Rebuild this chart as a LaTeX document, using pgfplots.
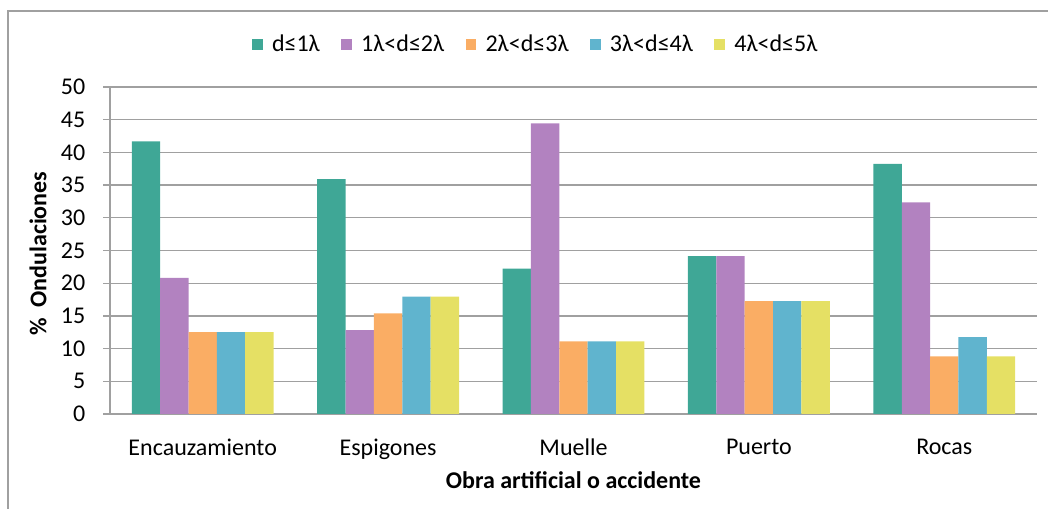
\documentclass[border=0pt]{standalone}
\usepackage{pgfplots}
\pgfplotsset{compat=1.18}
\usetikzlibrary{calc}
\usepackage{fontspec}
\setmainfont{Carlito}
\definecolor{cA}{HTML}{3FA796}
\definecolor{cB}{HTML}{B282C0}
\definecolor{cC}{HTML}{FAAD64}
\definecolor{cD}{HTML}{60B4CE}
\definecolor{cE}{HTML}{E5E064}
\definecolor{gridc}{HTML}{A0A0A0}
\pgfplotsset{/pgfplots/ybar legend/.style={/pgfplots/legend image code/.code={\fill[##1] (0pt,-4pt) rectangle (8pt,4pt); \path (13pt,0pt);}}}
\begin{document}
\begin{tikzpicture}
\begin{pgfinterruptboundingbox}
\begin{axis}[
  name=ax,
  scale only axis, width=695.25pt, height=245.25pt,
  ymin=0, ymax=50, ytick={0,5,...,50},
  xmin=-0.5, xmax=4.5,
  xtick={0,...,4},
  xticklabels={Encauzamiento,Espigones,Muelle,Puerto,Rocas},
  extra x ticks={-0.5,0.5,1.5,2.5,3.5,4.5},
  extra x tick labels={},
  extra x tick style={major tick length=5pt, tick align=outside, tick style={gridc, line width=1pt}},
  x tick style={draw=none},
  y tick style={gridc, line width=1pt},
  tick align=outside, major tick length=5pt,
  axis x line*=bottom, axis y line*=left,
  axis line style={gridc, line width=1pt, -},
  ymajorgrids, grid style={gridc, line width=1pt},
  ybar=0pt, bar width=0.153,
  /pgf/number format/assume math mode=true,
  tick label style={font=\fontsize{18}{20}\selectfont, text=black},
  yticklabel style={xshift=-10pt},
  xticklabel style={yshift=-10pt},
  xlabel={\textbf{Obra artificial o accidente}},
  ylabel={\textbf{\%\ \ Ondulaciones}},
  xlabel style={at={(axis description cs:0.5,-0.2018)}, anchor=center, font=\fontsize{18}{20}\selectfont},
  ylabel style={at={(axis description cs:-0.0777,0.49)}, anchor=center, font=\fontsize{18}{20}\selectfont},
  legend columns=5,
  legend style={at={(axis description cs:0.4596,1)}, anchor=center, yshift=32pt, draw=none, fill=none,
    font=\fontsize{18}{20}\selectfont,
    /tikz/every even column/.append style={column sep=14pt}},
  legend cell align=left,
]
\addplot[fill=cA, draw=none] coordinates {(0,41.67) (1,35.90) (2,22.22) (3,24.14) (4,38.24)};
\addplot[fill=cB, draw=none] coordinates {(0,20.83) (1,12.82) (2,44.44) (3,24.14) (4,32.35)};
\addplot[fill=cC, draw=none] coordinates {(0,12.5) (1,15.38) (2,11.11) (3,17.24) (4,8.82)};
\addplot[fill=cD, draw=none] coordinates {(0,12.5) (1,17.95) (2,11.11) (3,17.24) (4,11.76)};
\addplot[fill=cE, draw=none] coordinates {(0,12.5) (1,17.95) (2,11.11) (3,17.24) (4,8.82)};
\legend{d≤1λ,1λ<d≤2λ,2λ<d≤3λ,3λ<d≤4λ,4λ<d≤5λ}
\end{axis}
\end{pgfinterruptboundingbox}
\useasboundingbox ($(ax.south west)+(-82.5pt,-71.25pt)$) rectangle ($(ax.south west)+(703.5pt,310.5pt)$);
\draw[color=gridc, line width=0.8pt] ($(ax.south west)+(-76.5pt,-71.25pt)$) -- ($(ax.south west)+(-76.5pt,302.25pt)$) -- ($(ax.south west)+(703.5pt,302.25pt)$);
\end{tikzpicture}
\end{document}
